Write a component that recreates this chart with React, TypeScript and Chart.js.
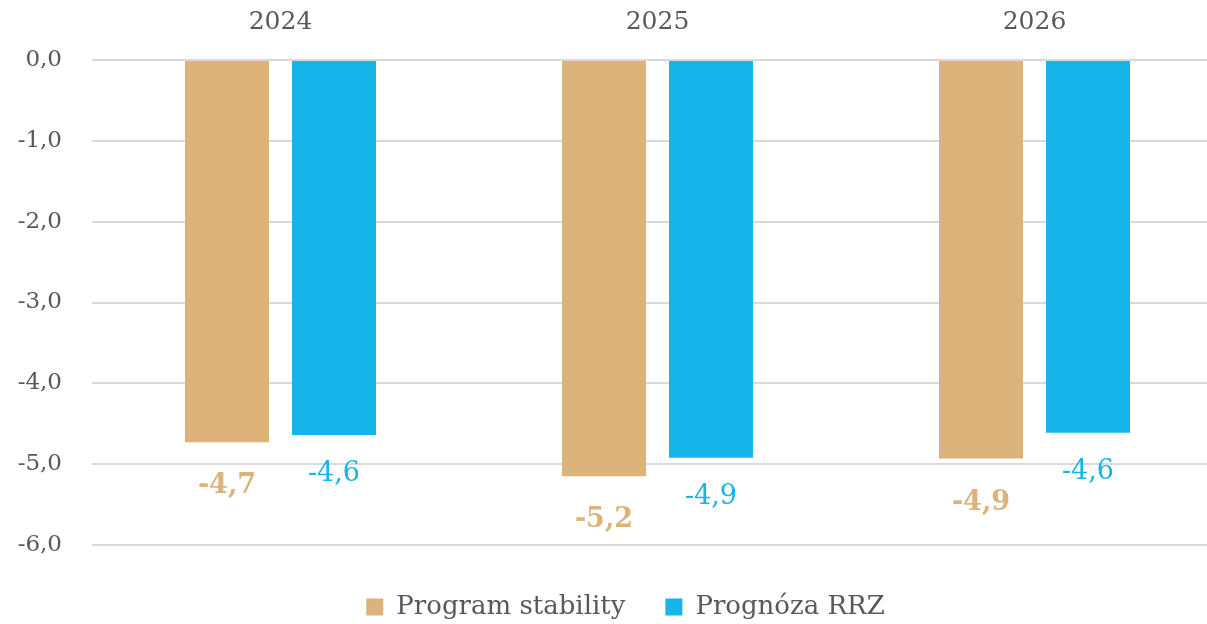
import React, { useEffect, useRef } from "react";
import { Chart, registerables } from "chart.js";

Chart.register(...registerables);

const categories = ["2024", "2025", "2026"];
const programStability = [-4.73, -5.15, -4.93];
const prognozaRRZ = [-4.64, -4.92, -4.61];
const seriesNames = ["Program stability", "Prognóza RRZ"];
const yTicks = [0, -1, -2, -3, -4, -5, -6];

const TAN = "#DCB37B";
const BLUE = "#15B5EA";
const GREY = "#595959";
const FONT = "'DejaVu Serif', serif";

const fmt = (v: number) => v.toFixed(1).replace(".", ",");

const valueLabels = {
  id: "valueLabels",
  afterDatasetsDraw(chart: any) {
    const ctx = chart.ctx;
    ctx.save();
    ctx.textAlign = "center";
    ctx.textBaseline = "middle";
    chart.data.datasets.forEach((ds: any, i: number) => {
      const meta = chart.getDatasetMeta(i);
      const bold = i === 0;
      ctx.font = `${bold ? "bold " : ""}27px ${FONT}`;
      ctx.fillStyle = ds.backgroundColor;
      const off = bold ? 44 : 39;
      meta.data.forEach((el: any, j: number) => {
        ctx.fillText(fmt(ds.data[j]), el.x, el.y + off);
      });
    });
    ctx.restore();
  },
};

const shiftLegend = {
  id: "shiftLegend",
  afterLayout(chart: any) {
    const l = chart.legend;
    if (!l) return;
    l.left += 14;
    l.right += 14;
    l.top += 9;
    l.bottom += 9;
  },
};

export default function App() {
  const ref = useRef<HTMLCanvasElement | null>(null);
  useEffect(() => {
    document.body.style.margin = "0";
    document.body.style.overflow = "hidden";
    const chart = new Chart(ref.current as HTMLCanvasElement, {
      type: "bar",
      data: {
        labels: categories,
        datasets: [
          {
            label: seriesNames[0],
            data: programStability,
            backgroundColor: TAN,
            categoryPercentage: 0.5676,
            barPercentage: 0.785,
          },
          {
            label: seriesNames[1],
            data: prognozaRRZ,
            backgroundColor: BLUE,
            categoryPercentage: 0.5676,
            barPercentage: 0.785,
          },
        ],
      },
      options: {
        animation: false,
        responsive: false,
        layout: { padding: { top: 0, left: 0, right: 0, bottom: 3 } },
        plugins: {
          tooltip: { enabled: false },
          legend: {
            position: "bottom",
            labels: {
              font: { family: FONT, size: 26 },
              color: GREY,
              boxWidth: 17,
              boxHeight: 17,
              padding: 40,
            },
          },
        },
        scales: {
          x: {
            position: "top",
            grid: { display: false, drawTicks: false },
            border: { display: false },
            ticks: {
              font: { family: FONT, size: 25 },
              color: GREY,
              padding: 23,
            },
            afterFit(s: any) {
              s.height = 60;
            },
          },
          y: {
            min: -6,
            max: 0,
            afterBuildTicks(s: any) {
              s.ticks = yTicks.map((v) => ({ value: v }));
            },
            grid: { color: "#D9D9D9", lineWidth: 2, drawTicks: false },
            border: { display: false },
            ticks: {
              font: { family: FONT, size: 23 },
              color: GREY,
              padding: 30,
              callback: (v: any) => fmt(Number(v)),
            },
            afterFit(s: any) {
              s.width = 92;
            },
          },
        },
      },
      plugins: [valueLabels, shiftLegend],
    });
    return () => chart.destroy();
  }, []);
  return (
    <div style={{ width: 1223, height: 624 }}>
      <canvas ref={ref} width={1223} height={624} style={{ display: "block" }} />
    </div>
  );
}
